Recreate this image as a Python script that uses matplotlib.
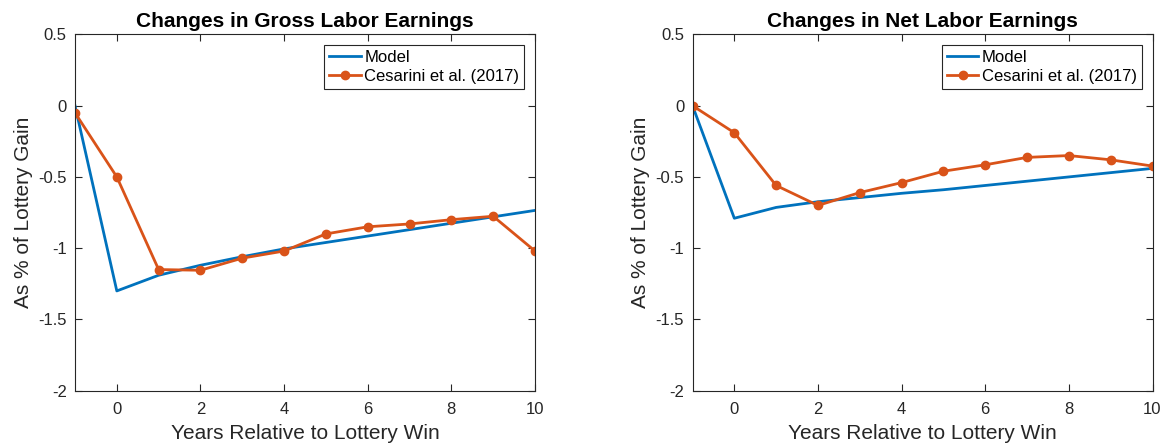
import numpy as np
import matplotlib as mpl
import matplotlib.pyplot as plt

mpl.rc('font', family=['Liberation Sans', 'DejaVu Sans'], size=12)
mpl.rc('figure', facecolor='w')

years = np.arange(-1, 11)

# gross labor earnings, % of lottery gain
gross_model = [0.0, -1.30, -1.19, -1.12, -1.06, -1.005, -0.96, -0.915, -0.87, -0.825, -0.78, -0.735]
gross_cesarini = [-0.05, -0.50, -1.15, -1.155, -1.07, -1.02, -0.90, -0.85, -0.83, -0.80, -0.776, -1.02]

# net labor earnings, % of lottery gain
net_model = [0.0, -0.79, -0.714, -0.674, -0.645, -0.615, -0.59, -0.56, -0.53, -0.50, -0.47, -0.44]
net_cesarini = [0.0, -0.19, -0.56, -0.70, -0.61, -0.54, -0.46, -0.415, -0.363, -0.35, -0.38, -0.424]

titles = ['Changes in Gross Labor Earnings', 'Changes in Net Labor Earnings']
ytick_vals = [-2, -1.5, -1, -0.5, 0, 0.5]
ytick_labels = ['-2', '-1.5', '-1', '-0.5', '0', '0.5']
xtick_vals = [0, 2, 4, 6, 8, 10]

blue = '#0072BD'
orange = '#D95319'
dark = '#262626'

fig = plt.figure(figsize=(11.63, 4.47), dpi=100)
lefts = [75 / 1163, 692.5 / 1163]
panels = [(gross_model, gross_cesarini), (net_model, net_cesarini)]

for i, (model, data) in enumerate(panels):
    ax = fig.add_axes([lefts[i], 0.126, 460 / 1163, 0.797])
    ax.plot(years, model, color=blue, linewidth=2, label='Model')
    ax.plot(years, data, color=orange, linewidth=2, marker='o', markersize=6,
            label='Cesarini et al. (2017)')
    ax.set_xlim(-1, 10)
    ax.set_ylim(-2, 0.5)
    ax.set_xticks(xtick_vals)
    ax.set_yticks(ytick_vals)
    ax.set_yticklabels(ytick_labels)
    ax.tick_params(direction='in', top=True, right=True, length=5, width=0.8,
                   colors=dark, labelsize=12)
    ax.tick_params(axis='x', pad=8)
    ax.tick_params(axis='y', pad=6)
    for sp in ax.spines.values():
        sp.set_color(dark)
        sp.set_linewidth(0.8)
    ax.set_title(titles[i], fontsize=15, fontweight='bold', color='k', pad=5)
    ax.set_xlabel('Years Relative to Lottery Win', fontsize=15, color=dark, labelpad=5)
    ax.set_ylabel('As % of Lottery Gain', fontsize=15, color=dark, labelpad=4)
    leg = ax.legend(loc='upper right', fontsize=12, fancybox=False, framealpha=1,
                    borderpad=0.3, handlelength=1.9, handletextpad=0.2,
                    labelspacing=0.2, borderaxespad=0.65)
    leg.get_frame().set_edgecolor(dark)
    leg.get_frame().set_linewidth(0.8)

plt.savefig('out.png', dpi=100)
